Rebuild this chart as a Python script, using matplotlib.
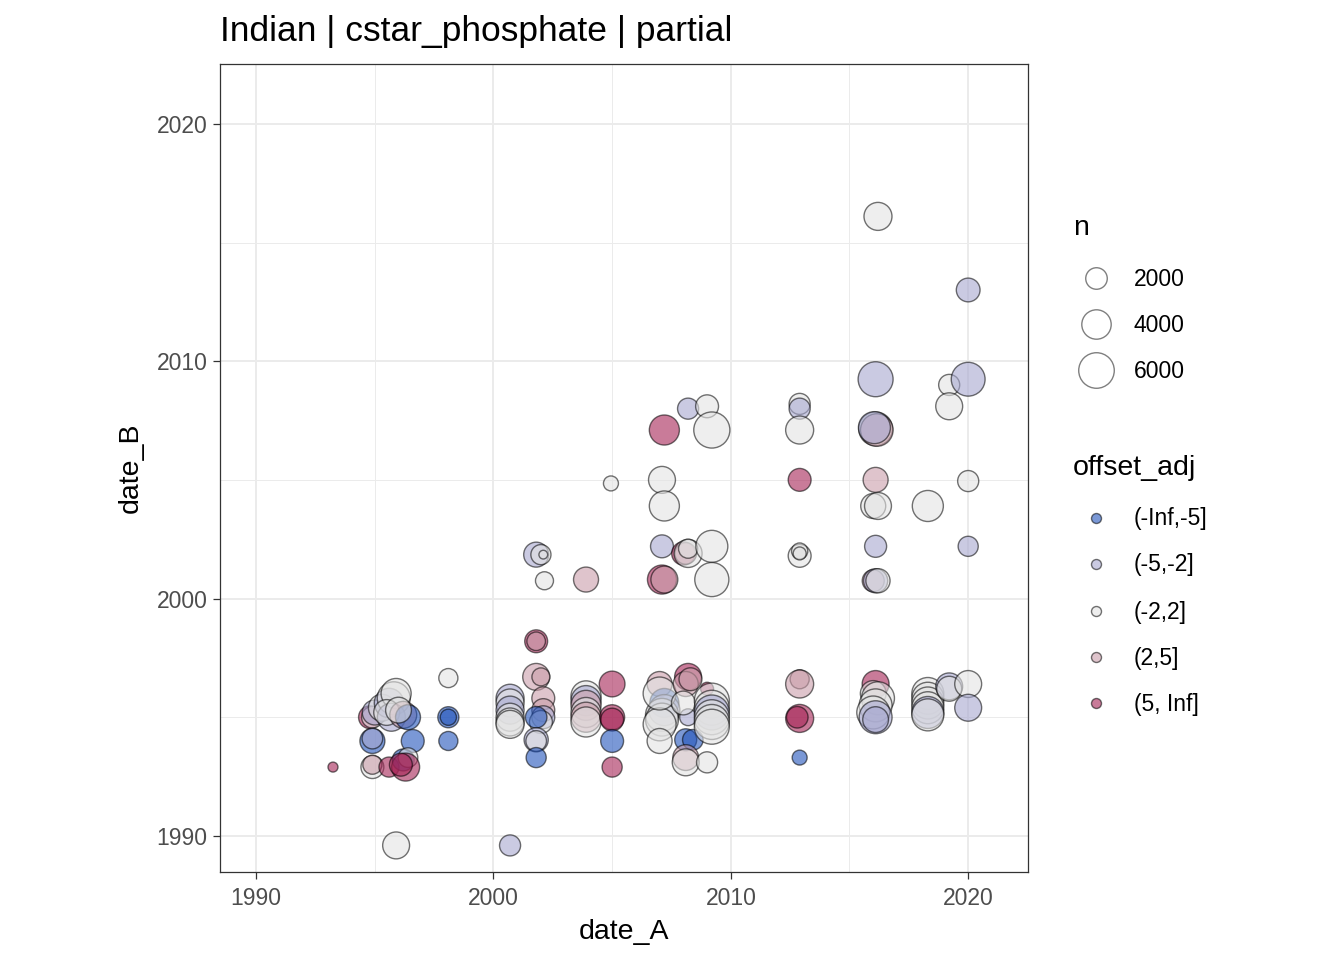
import matplotlib
matplotlib.use("Agg")
import matplotlib.pyplot as plt
import numpy as np
from matplotlib.colors import to_rgba

plt.rcParams['font.family'] = ['Liberation Sans', 'DejaVu Sans']

categories = ["(-Inf,-5]", "(-5,-2]", "(-2,2]", "(2,5]", "(5, Inf]"]
cat_colors = ["#2254BB", "#A7A8D0", "#E3E3E3", "#CA9EAA", "#A52456"]

# date_A, date_B, n, offset category index
date_A = [1993.24, 1994.8, 1994.9, 1995.0, 1995.3, 1995.6, 1995.8, 1995.9, 1995.7, 1995.5, 1996.2,
          1996.4, 1996.0, 1994.9, 1994.9, 1996.6, 1994.9, 1994.9, 1995.6, 1996.2, 1996.4, 1996.3,
          1996.1, 1998.1, 1998.1, 1998.1, 1998.1, 1995.9, 2000.7,
          2000.7, 2000.7, 2000.7, 2000.7, 2000.7, 2000.7,
          2001.8, 2001.8, 2001.8, 2002.0, 2002.1, 2002.1, 2002.1, 2002.0, 2001.8, 2001.8, 2001.8,
          2001.8, 2001.8, 2002.0, 2002.1, 2002.15, 2003.9, 2004.95,
          2003.9, 2003.9, 2003.9, 2003.9, 2003.9, 2003.9,
          2005.0, 2005.0, 2005.0, 2005.0, 2005.0,
          2007.0, 2007.2, 2007.2, 2007.1, 2007.1, 2007.0, 2007.0, 2007.0,
          2008.2, 2008.1, 2008.3, 2008.2, 2008.1, 2008.4, 2008.1, 2008.1, 2008.0, 2009.0, 2009.0,
          2009.2, 2009.2, 2009.2, 2009.2, 2009.2, 2009.2,
          2008.2, 2009.0, 2007.2, 2009.2, 2007.1, 2007.2, 2007.1, 2008.0, 2008.1, 2008.2, 2008.2,
          2009.2, 2007.1, 2007.2, 2009.2,
          2012.9, 2012.9, 2012.9, 2012.9, 2012.9, 2012.9, 2012.9, 2012.9, 2012.9, 2012.9, 2012.8,
          2012.9,
          2016.2, 2016.1, 2016.1, 2016.15, 2016.05, 2016.1, 2016.0, 2016.2, 2016.1, 2016.0, 2016.1,
          2016.2,
          2016.1, 2016.0, 2016.2, 2016.1, 2016.0, 2016.1, 2016.1,
          2018.3, 2018.3, 2018.3, 2018.3, 2018.3, 2018.3, 2018.3,
          2019.2, 2019.2, 2019.2, 2019.2,
          2020.0, 2020.0, 2020.0, 2020.0, 2020.0, 2020.0]
date_B = [1992.9, 1995.0, 1995.0, 1995.2, 1995.4, 1995.6, 1995.8, 1996.0, 1995.0, 1995.2, 1995.1,
          1995.0, 1995.3, 1994.0, 1994.1, 1994.0, 1992.9, 1993.0, 1992.9, 1993.2, 1993.3, 1992.9,
          1993.0, 1996.65, 1995.0, 1995.0, 1994.0, 1989.6, 1989.6,
          1995.8, 1995.6, 1995.3, 1995.0, 1994.8, 1994.7,
          1998.2, 1998.2, 1996.7, 1996.7, 1995.8, 1995.3, 1995.0, 1994.8, 1995.0, 1994.05, 1994.0,
          1993.3, 2001.85, 2001.85, 2001.85, 2000.75, 2000.8, 2004.85,
          1995.9, 1995.7, 1995.5, 1995.2, 1995.0, 1994.8,
          1996.4, 1995.0, 1994.9, 1994.0, 1992.9,
          1996.4, 1995.6, 1995.3, 1995.1, 1994.9, 1994.7, 1996.0, 1994.0,
          1996.7, 1996.4, 1996.6, 1995.0, 1994.05, 1994.05, 1993.3, 1993.1, 1995.6, 1996.2, 1993.1,
          1995.7, 1995.4, 1995.2, 1995.0, 1994.8, 1994.6,
          2008.0, 2008.1, 2007.1, 2007.1, 2005.0, 2003.9, 2002.2, 2001.9, 2001.9, 2001.9, 2002.1,
          2002.2, 2000.8, 2000.8, 2000.8,
          2008.2, 2008.0, 2007.1, 2005.0, 2001.8, 2002.0, 2001.9, 1996.6, 1996.4, 1994.95, 1995.0,
          1993.3,
          2016.1, 2009.24, 2007.15, 2007.1, 2007.2, 2005.0, 2003.9, 2003.9, 2002.2, 2000.75, 2000.75,
          2000.75,
          1996.4, 1996.0, 1995.8, 1995.5, 1995.2, 1995.0, 1994.9,
          2003.9, 1996.0, 1995.8, 1995.6, 1995.4, 1995.2, 1995.1,
          2009.0, 2008.1, 1996.3, 1996.2,
          2013.0, 2009.24, 2004.95, 2002.2, 1996.4, 1995.4]
n_obs = [180, 2300, 2000, 2800, 3300, 4000, 5100, 4200, 3600, 3000, 3300,
         2800, 3000, 2800, 1800, 2300, 2300, 1500, 1700, 2100, 1600, 3600,
         2300, 1500, 1900, 1000, 1500, 3300, 1900,
         3600, 3600, 3600, 3600, 3600, 3600,
         2300, 1400, 3300, 1300, 2300, 2300, 2300, 2300, 2000, 2600, 1800,
         1700, 2800, 1700, 60, 1300, 2800, 800,
         4200, 4200, 4200, 4200, 4200, 4200,
         3000, 2800, 2300, 2300, 1700,
         2800, 3900, 4500, 5100, 5100, 5100, 5100, 2800,
         3300, 2800, 2300, 1100, 2100, 1800, 3000, 3300, 2500, 520, 1900,
         5800, 5800, 5800, 5800, 5800, 5800,
         1900, 2300, 4200, 6200, 3300, 4200, 2300, 2400, 2000, 3600, 1500,
         4800, 3900, 3300, 5500,
         1900, 1900, 3600, 2300, 2300, 1000, 520, 1500, 3600, 3600, 2000,
         800,
         3600, 5800, 5400, 5000, 4800, 2800, 2800, 3300, 2100, 2100, 2600,
         2600,
         3300, 3000, 5100, 5100, 5100, 5100, 3000,
         4500, 4800, 4800, 4800, 4800, 4800, 4800,
         1900, 3300, 3300, 2800,
         2500, 5400, 1900, 1700, 3300, 3300]
offset_cat = [4, 4, 2, 1, 2, 1, 2, 2, 1, 2, 3,
              0, 2, 0, 1, 0, 2, 3, 4, 0, 2, 4,
              4, 2, 0, 0, 0, 2, 1,
              1, 2, 1, 2, 2, 2,
              4, 3, 3, 3, 3, 3, 1, 2, 0, 1, 2,
              0, 1, 2, 2, 2, 3, 2,
              2, 1, 3, 2, 3, 2,
              4, 4, 4, 0, 4,
              3, 0, 1, 2, 2, 2, 2, 2,
              4, 3, 3, 1, 0, 0, 3, 2, 2, 4, 2,
              2, 2, 1, 2, 2, 2,
              1, 2, 4, 2, 2, 2, 1, 4, 3, 2, 2,
              2, 4, 3, 2,
              2, 1, 2, 4, 2, 2, 2, 3, 3, 4, 4,
              0,
              2, 1, 2, 3, 1, 3, 2, 2, 1, 3, 1,
              2,
              4, 2, 2, 2, 2, 1, 1,
              2, 2, 2, 2, 2, 1, 2,
              2, 2, 1, 2,
              1, 1, 2, 1, 2, 1]

size_breaks = [2000, 4000, 6000]
x_ticks = [1990, 2000, 2010, 2020]
y_ticks = [1990, 2000, 2010, 2020]

DPI = 100
def n_to_s(n):
    d_px = np.sqrt(64 + 0.2 * np.asarray(n, dtype=float))
    return (d_px * 72.0 / DPI) ** 2

FACE_ALPHA = 0.6
edge_rgba = (0.0, 0.0, 0.0, 0.55)

fig = plt.figure(figsize=(13.44, 9.6), dpi=DPI)
ax = fig.add_axes([220/1344, 1 - 872/960, (1028-220)/1344, (872-64)/960])

ax.set_xlim(1988.48, 2022.52)
ax.set_ylim(1988.48, 2022.52)
ax.set_xticks(x_ticks)
ax.set_yticks(y_ticks)
ax.set_xticks([1995, 2005, 2015], minor=True)
ax.set_yticks([1995, 2005, 2015], minor=True)
ax.grid(which='major', color='#EBEBEB', linewidth=1.4)
ax.grid(which='minor', color='#EBEBEB', linewidth=0.7)
ax.set_axisbelow(True)
for sp in ax.spines.values():
    sp.set_color('#333333')
    sp.set_linewidth(0.9)
ax.tick_params(which='major', length=5, width=0.9, color='#333333',
               labelsize=16.5, labelcolor='#4D4D4D', pad=4)
ax.tick_params(axis='x', which='major', pad=6)
ax.tick_params(which='minor', length=0)

fc = [to_rgba(cat_colors[c], FACE_ALPHA) for c in offset_cat]
ax.scatter(date_A, date_B, s=n_to_s(n_obs), facecolors=fc,
           edgecolors=[edge_rgba] * len(fc), linewidths=1.0, zorder=3)

ax.set_xlabel("date_A", fontsize=20.5, labelpad=6)
ax.set_ylabel("date_B", fontsize=20.5, labelpad=9)
fig.text(220/1344, 1 - 31/960, "Indian | cstar_phosphate | partial",
         fontsize=25.5, ha='left', va='center')

# Legends drawn in pixel-coordinate overlay
lax = fig.add_axes([0, 0, 1, 1])
lax.set_xlim(0, 1344)
lax.set_ylim(960, 0)
lax.axis('off')
lax.patch.set_alpha(0)

lax.text(1073, 228, "n", fontsize=20.5, ha='left', va='center')
for yy, nb in zip([278, 324, 370], size_breaks):
    lax.scatter([1096], [yy], s=n_to_s([nb]), facecolors='white',
                edgecolors=[(0, 0, 0, 0.5)], linewidths=1.0)
    lax.text(1134, yy + 1, str(nb), fontsize=16.5, ha='left', va='center')

lax.text(1073, 468, "offset_adj", fontsize=20.5, ha='left', va='center')
for yy, lab, col in zip([518, 564, 611, 657, 703], categories, cat_colors):
    lax.scatter([1096], [yy], s=(10 * 72.0 / DPI) ** 2,
                facecolors=[to_rgba(col, FACE_ALPHA)],
                edgecolors=[edge_rgba], linewidths=1.0)
    lax.text(1134, yy + 1, lab, fontsize=16.5, ha='left', va='center')

fig.savefig("out.png", dpi=DPI)
